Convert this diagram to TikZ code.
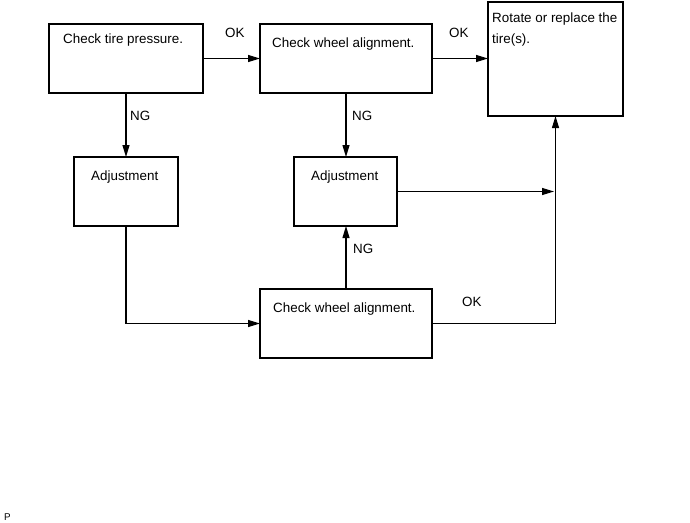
\documentclass[tikz,border=0pt]{standalone}
\usepackage{fontspec}
\setmainfont{Liberation Sans}
\usetikzlibrary{arrows.meta}
\begin{document}
\begin{tikzpicture}[x=1pt,y=-1pt,
  box/.style={draw,line width=1.8pt,inner sep=0pt,outer sep=0pt},
  arr/.style={line width=1.1pt,-{Triangle[length=12pt,width=7pt]}},
  lbl/.style={anchor=base west,inner sep=0pt,font=\fontsize{13.4}{19.5}\selectfont}]
\useasboundingbox (0,0) rectangle (690,522);
\node[box,minimum width=154pt,minimum height=69pt] (b1) at (126,58.5) {};
\node[box,minimum width=172pt,minimum height=69pt] (b2) at (346,58.5) {};
\node[box,minimum width=135pt,minimum height=114pt] (b3) at (555.5,59) {};
\node[box,minimum width=104pt,minimum height=69pt] (a1) at (126,191.5) {};
\node[box,minimum width=103pt,minimum height=69pt] (a2) at (345.5,191.5) {};
\node[box,minimum width=172pt,minimum height=69pt] (b4) at (346,323.5) {};
\node[lbl] (t1) at (63,43) {Check tire pressure.};
\node[lbl] (t2) at (272,47) {Check wheel alignment.};
\node[lbl] (t3a) at (492,23) {Rotate or replace the};
\node[lbl] (t3b) at (492,43) {tire(s).};
\node[lbl] (t4) at (91,180) {Adjustment};
\node[lbl] (t5) at (311,180) {Adjustment};
\node[lbl] (t6) at (273,312) {Check wheel alignment.};
\node[lbl] (ok1) at (225,37) {OK};
\node[lbl] (ok2) at (449,37) {OK};
\node[lbl] (ok3) at (462,306) {OK};
\node[lbl] (ng1) at (130,120) {NG};
\node[lbl] (ng2) at (352,120) {NG};
\node[lbl] (ng3) at (353,253) {NG};
\node[anchor=base west,inner sep=0pt,font=\fontsize{9.8}{12}\selectfont] (p) at (4,520) {P};
\draw[arr] (b1.east) -- (b2.west);
\draw[arr] (b2.east) -- (b3.west |- b2.east);
\draw[arr] (b1.south) -- (a1.north);
\draw[arr] (b2.south) -- (b2.south |- a2.north);
\draw[arr] (a1.south) |- (b4.west);
\draw[arr] (b4.north) -- (b4.north |- a2.south);
\coordinate (j) at (554,191.5);
\draw[arr] (a2.east) -- (j);
\draw[arr] (b4.east) -| (b3.south);
\end{tikzpicture}
\end{document}
